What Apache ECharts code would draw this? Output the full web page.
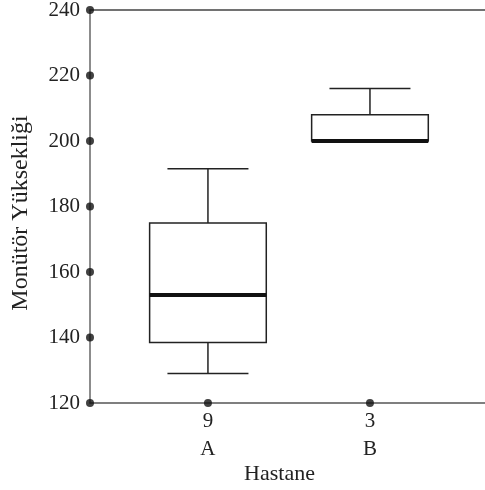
<!DOCTYPE html>
<html>
<head>
<meta charset="utf-8">
<script src="https://cdn.jsdelivr.net/npm/echarts@6/dist/echarts.min.js"></script>
<style>
  html, body { margin: 0; padding: 0; background: #fff; }
  #chart { width: 485px; height: 490px; }
</style>
</head>
<body>
<div id="chart"></div>
<script>
// veriler
const hospitals = ['A', 'B']
const counts = [9, 3]
const xPos = [1, 2]
// [alt bıyık, Q1, medyan, Q3, üst bıyık]
const boxA = [129, 138.5, 153, 175, 191.5]
const boxB = [200, 200, 200, 208, 216]
const yTicks = [120, 140, 160, 180, 200, 220, 240]

const xMin = 0.272
const xMax = 2.71
const font = 'Liberation Serif'

const boxData = [
  [xPos[0]].concat(boxA),
  [xPos[1]].concat(boxB)
]

// eksen üzerindeki nokta işaretleri
const dotData = yTicks.map(v => [xMin, v]).concat(xPos.map(x => [x, yTicks[0]]))

function renderBox(params, api) {
  const x = api.value(0)
  const low = api.coord([x, api.value(1)])
  const q1 = api.coord([x, api.value(2)])
  const med = api.coord([x, api.value(3)])
  const q3 = api.coord([x, api.value(4)])
  const high = api.coord([x, api.value(5)])
  const halfBox = api.size([0.72, 0])[0] / 2
  const halfCap = api.size([0.5, 0])[0] / 2
  const cx = q1[0]
  const line = { stroke: '#222', lineWidth: 1.5 }
  const children = [
    {
      type: 'rect',
      shape: { x: cx - halfBox, y: q3[1], width: halfBox * 2, height: q1[1] - q3[1] },
      style: { fill: '#fff', stroke: '#222', lineWidth: 1.5 }
    }
  ]
  if (high[1] < q3[1]) {
    children.push(
      { type: 'line', shape: { x1: cx, y1: q3[1], x2: cx, y2: high[1] }, style: line },
      { type: 'line', shape: { x1: cx - halfCap, y1: high[1], x2: cx + halfCap, y2: high[1] }, style: line }
    )
  }
  if (low[1] > q1[1]) {
    children.push(
      { type: 'line', shape: { x1: cx, y1: q1[1], x2: cx, y2: low[1] }, style: line },
      { type: 'line', shape: { x1: cx - halfCap, y1: low[1], x2: cx + halfCap, y2: low[1] }, style: line }
    )
  }
  children.push({
    type: 'line',
    shape: { x1: cx - halfBox, y1: med[1], x2: cx + halfBox, y2: med[1] },
    style: { stroke: '#111', lineWidth: 4 }
  })
  return { type: 'group', children: children }
}

const chart = echarts.init(document.getElementById('chart'), null, { renderer: 'canvas' })
chart.setOption({
  animation: false,
  backgroundColor: '#fff',
  grid: {
    left: 90,
    top: 10,
    right: 0,
    bottom: 87,
    outerBoundsMode: 'none'
  },
  xAxis: [
    {
      type: 'value',
      min: xMin,
      max: xMax,
      name: 'Hastane',
      nameLocation: 'middle',
      nameGap: 60,
      nameMoveOverlap: false,
      nameTextStyle: { fontFamily: font, fontSize: 22, color: '#222', padding: [0, 16, 0, 0] },
      splitLine: { show: false },
      axisLine: { lineStyle: { color: '#555', width: 1.5 } },
      axisTick: { show: false },
      axisLabel: {
        customValues: xPos,
        margin: 4,
        fontFamily: font,
        fontSize: 21,
        lineHeight: 28,
        color: '#222',
        formatter: function (v) {
          const i = xPos.indexOf(v)
          return i < 0 ? '' : counts[i] + '\n' + hospitals[i]
        }
      }
    },
    {
      // üst çerçeve çizgisi
      type: 'value',
      position: 'top',
      min: xMin,
      max: xMax,
      splitLine: { show: false },
      axisLine: { show: true, onZero: false, lineStyle: { color: '#444', width: 1.5 } },
      axisTick: { show: false },
      axisLabel: { show: false }
    }
  ],
  yAxis: {
    type: 'value',
    min: 120,
    max: 240,
    interval: 20,
    name: 'Monütör Yüksekliği',
    nameLocation: 'middle',
    nameGap: 57,
    nameMoveOverlap: false,
    nameTextStyle: { fontFamily: font, fontSize: 24, color: '#222', padding: [0, 13, 0, 0] },
    splitLine: { show: false },
    axisLine: { show: true, lineStyle: { color: '#666', width: 1.5 } },
    axisTick: { show: false },
    axisLabel: { margin: 10, fontFamily: font, fontSize: 21, color: '#222' }
  },
  series: [
    {
      type: 'custom',
      renderItem: renderBox,
      data: boxData,
      encode: { x: 0, y: [1, 2, 3, 4, 5] },
      z: 3
    },
    {
      type: 'scatter',
      data: dotData,
      symbolSize: 8,
      clip: false,
      itemStyle: { color: '#111' },
      z: 5
    }
  ]
})
</script>
</body>
</html>
